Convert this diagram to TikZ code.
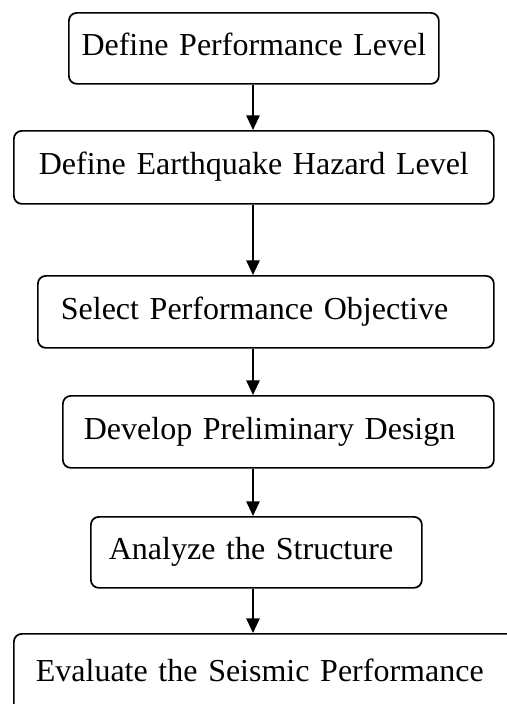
\documentclass[tikz,border=0pt]{standalone}
\usepackage{fontspec}
\setmainfont{Liberation Serif}
\usetikzlibrary{arrows.meta}

\tikzset{every picture/.style={line width=0.75pt}}

\begin{document}
\begin{tikzpicture}[x=0.75pt,y=0.75pt,yscale=-1,xscale=1,
  stagebox/.style={draw, line width=1.3pt, rounded corners=6pt, anchor=north west, inner ysep=0pt, text height=16.8pt, text depth=6pt, font=\fontsize{24}{28}\selectfont},
  flowarrow/.style={line width=1.3pt, -{Triangle[length=11pt,width=10pt]}}]
%set diagram at 507 x 704
\useasboundingbox (0,0) rectangle (507,704);
\clip (0,0) rectangle (507,704);

%Spine of the arrows
\coordinate (spine) at (253,0);

%Shape: Rounded Rect [id:perflevel]
\node [stagebox, align=center, text width=262.5pt, inner xsep=7.5pt, minimum height=53.25pt] (perflevel) at (68,12) {Define Performance Level};
%Shape: Rounded Rect [id:hazlevel]
\node [stagebox, align=center, text width=345pt, inner xsep=7.5pt, minimum height=54.75pt] (hazlevel) at (13,130) {Define Earthquake Hazard Level};
%Shape: Rounded Rect [id:perfobj]
\node [stagebox, align=left, text width=307.5pt, inner xsep=17.25pt, minimum height=54pt] (perfobj) at (37,275) {Select Performance Objective};
%Shape: Rounded Rect [id:prelim]
\node [stagebox, align=left, text width=291.75pt, inner xsep=15.75pt, minimum height=54pt] (prelim) at (62,395) {Develop Preliminary Design};
%Shape: Rounded Rect [id:analyze]
\node [stagebox, align=left, text width=221.25pt, inner xsep=13.5pt, minimum height=53.25pt] (analyze) at (90,516) {Analyze the Structure};
%Shape: Rounded Rect [id:evaluate] (runs past the page edge)
\node [stagebox, align=left, text width=400pt, inner xsep=16.5pt, minimum height=60pt] (evaluate) at (13,633) {Evaluate the Seismic Performance};

%Straight Lines [id:arrows]
\draw [flowarrow] (perflevel.south -| spine) -- (hazlevel.north -| spine);
\draw [flowarrow] (hazlevel.south -| spine) -- (perfobj.north -| spine);
\draw [flowarrow] (perfobj.south -| spine) -- (prelim.north -| spine);
\draw [flowarrow] (prelim.south -| spine) -- (analyze.north -| spine);
\draw [flowarrow] (analyze.south -| spine) -- (evaluate.north -| spine);

\end{tikzpicture}
\end{document}
